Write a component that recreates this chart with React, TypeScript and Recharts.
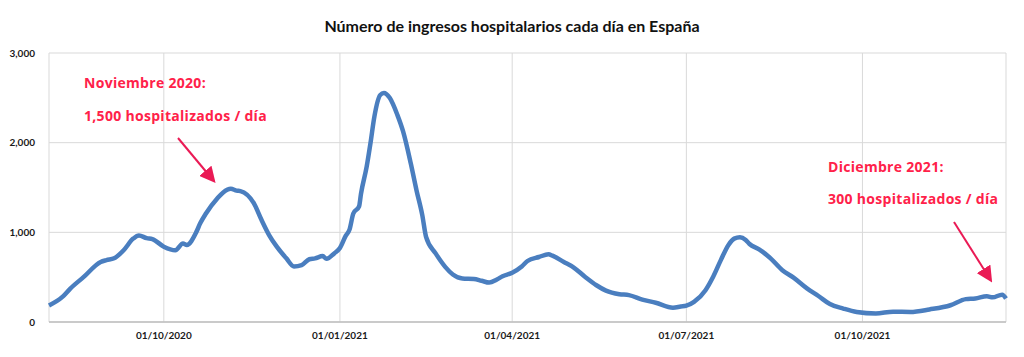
import { CartesianGrid, Line, LineChart, XAxis, YAxis } from "recharts";

const TITLE = "Número de ingresos hospitalarios cada día en España";

// fechas (muestreo aproximado) y ingresos diarios
const DATES = [
  "2020-08-02", "2020-08-09", "2020-08-13", "2020-08-20", "2020-08-29", "2020-09-01",
  "2020-09-05", "2020-09-10", "2020-09-15", "2020-09-18", "2020-09-22", "2020-09-25",
  "2020-10-01", "2020-10-07", "2020-10-11", "2020-10-13", "2020-10-18", "2020-10-20",
  "2020-10-23", "2020-10-29", "2020-11-01", "2020-11-05", "2020-11-08", "2020-11-10",
  "2020-11-17", "2020-11-21", "2020-11-25", "2020-11-29", "2020-12-04", "2020-12-08",
  "2020-12-12", "2020-12-16", "2020-12-19", "2020-12-23", "2020-12-25", "2020-12-29",
  "2021-01-01", "2021-01-04", "2021-01-06", "2021-01-08", "2021-01-11", "2021-01-12",
  "2021-01-15", "2021-01-17", "2021-01-19", "2021-01-22", "2021-01-24", "2021-01-27",
  "2021-01-31", "2021-02-03", "2021-02-07", "2021-02-10", "2021-02-13", "2021-02-15",
  "2021-02-20", "2021-02-25", "2021-03-01", "2021-03-06", "2021-03-12", "2021-03-16",
  "2021-03-20", "2021-03-24", "2021-03-27", "2021-04-01", "2021-04-06", "2021-04-09",
  "2021-04-15", "2021-04-20", "2021-04-22", "2021-04-28", "2021-05-03", "2021-05-09",
  "2021-05-15", "2021-05-20", "2021-05-27", "2021-06-01", "2021-06-08", "2021-06-15",
  "2021-06-24", "2021-06-28", "2021-07-01", "2021-07-05", "2021-07-11", "2021-07-15",
  "2021-07-19", "2021-07-23", "2021-07-26", "2021-07-29", "2021-08-01", "2021-08-03",
  "2021-08-08", "2021-08-14", "2021-08-20", "2021-08-26", "2021-09-02", "2021-09-08",
  "2021-09-14", "2021-09-21", "2021-09-28", "2021-10-08", "2021-10-17", "2021-10-26",
  "2021-11-05", "2021-11-16", "2021-11-24", "2021-11-29", "2021-12-05", "2021-12-08",
  "2021-12-13", "2021-12-15",
];

const ADMISSIONS = [
  185, 280, 370, 500, 670, 690,
  710, 800, 930, 965, 935, 925,
  840, 800, 875, 860, 1005, 1100,
  1210, 1380, 1445, 1485, 1465, 1460,
  1325, 1140, 970, 840, 710, 620,
  635, 700, 710, 735, 705, 765,
  825, 960, 1030, 1210, 1290, 1430,
  1735, 2000, 2290, 2530, 2555, 2500,
  2310, 2125, 1770, 1470, 1195, 950,
  765, 615, 530, 485, 480, 460,
  440, 475, 510, 550, 620, 680,
  725, 755, 740, 670, 610, 505,
  410, 350, 310, 300, 250, 215,
  160, 172, 182, 225, 355, 505,
  690, 860, 930, 945, 915, 870,
  810, 710, 580, 495, 375, 290,
  200, 150, 112, 95, 115, 112,
  140, 187, 255, 262, 287, 275,
  305, 262,
];

const TICK_DATES = ["2020-10-01", "2021-01-01", "2021-04-01", "2021-07-01", "2021-10-01"];
const Y_TICKS = [0, 1000, 2000, 3000];
const START = "2020-08-02";
const END = "2021-12-15";

const NOTE_NOV = ["Noviembre 2020:", "1,500 hospitalizados / día"];
const NOTE_DEC = ["Diciembre 2021:", "300 hospitalizados / día"];

const toTime = (d: string) => Date.parse(d + "T00:00:00Z");
const pad = (n: number) => String(n).padStart(2, "0");
const fmtDate = (t: number) => {
  const d = new Date(t);
  return `${pad(d.getUTCDate())}/${pad(d.getUTCMonth() + 1)}/${d.getUTCFullYear()}`;
};

const data = DATES.map((d, i) => ({ t: toTime(d), value: ADMISSIONS[i] }));

const RED = "#ff2149";
const ARROW = "#ea1a55";
const tickStyle = { fontFamily: "Lato", fontWeight: 700, fontSize: 10, fill: "#1a1a1a" };

function Annotations() {
  return (
    <svg
      width={1024}
      height={357}
      style={{ position: "absolute", left: 0, top: 0, pointerEvents: "none" }}
    >
      <defs>
        <marker id="head" markerWidth="8" markerHeight="8" refX="6" refY="4" orient="auto">
          <path d="M0,0 L8,4 L0,8 z" fill={ARROW} />
        </marker>
      </defs>
      <g fontFamily="Open Sans" fontWeight={700} fontSize={14} letterSpacing={0.3} fill={RED}>
        <text x={84} y={88}>{NOTE_NOV[0]}</text>
        <text x={84} y={121}>{NOTE_NOV[1]}</text>
        <text x={828} y={172}>{NOTE_DEC[0]}</text>
        <text x={828} y={204}>{NOTE_DEC[1]}</text>
      </g>
      <line x1={178} y1={138} x2={213} y2={180} stroke={ARROW} strokeWidth={2} markerEnd="url(#head)" />
      <line x1={954} y1={222} x2={990} y2={279} stroke={ARROW} strokeWidth={2} markerEnd="url(#head)" />
    </svg>
  );
}

export default function App() {
  return (
    <div style={{ position: "absolute", left: 0, top: 0, width: 1024, height: 357, background: "#fff" }}>
      <div
        style={{
          position: "absolute",
          top: 16,
          width: 1024,
          textAlign: "center",
          fontFamily: "Lato",
          fontWeight: 700,
          fontSize: 16,
          color: "#111",
        }}
      >
        {TITLE}
      </div>
      <LineChart
        width={1024}
        height={357}
        data={data}
        margin={{ top: 53, right: 18, bottom: 5, left: 4 }}
      >
        <CartesianGrid stroke="#d9d9d9" />
        <XAxis
          dataKey="t"
          type="number"
          domain={[toTime(START), toTime(END)]}
          ticks={TICK_DATES.map(toTime)}
          tickFormatter={fmtDate}
          height={30}
          tickLine={false}
          axisLine={{ stroke: "#bfbfbf", strokeWidth: 1.5 }}
          tick={tickStyle}
          tickMargin={4}
        />
        <YAxis
          domain={[0, 3000]}
          ticks={Y_TICKS}
          tickFormatter={(v: number) => v.toLocaleString("en-US")}
          width={45}
          axisLine={false}
          tickLine={false}
          tick={tickStyle}
          tickMargin={8}
        />
        <Line
          type="monotone"
          dataKey="value"
          stroke="#4a7ebf"
          strokeWidth={4.5}
          dot={false}
          isAnimationActive={false}
        />
      </LineChart>
      <Annotations />
    </div>
  );
}
